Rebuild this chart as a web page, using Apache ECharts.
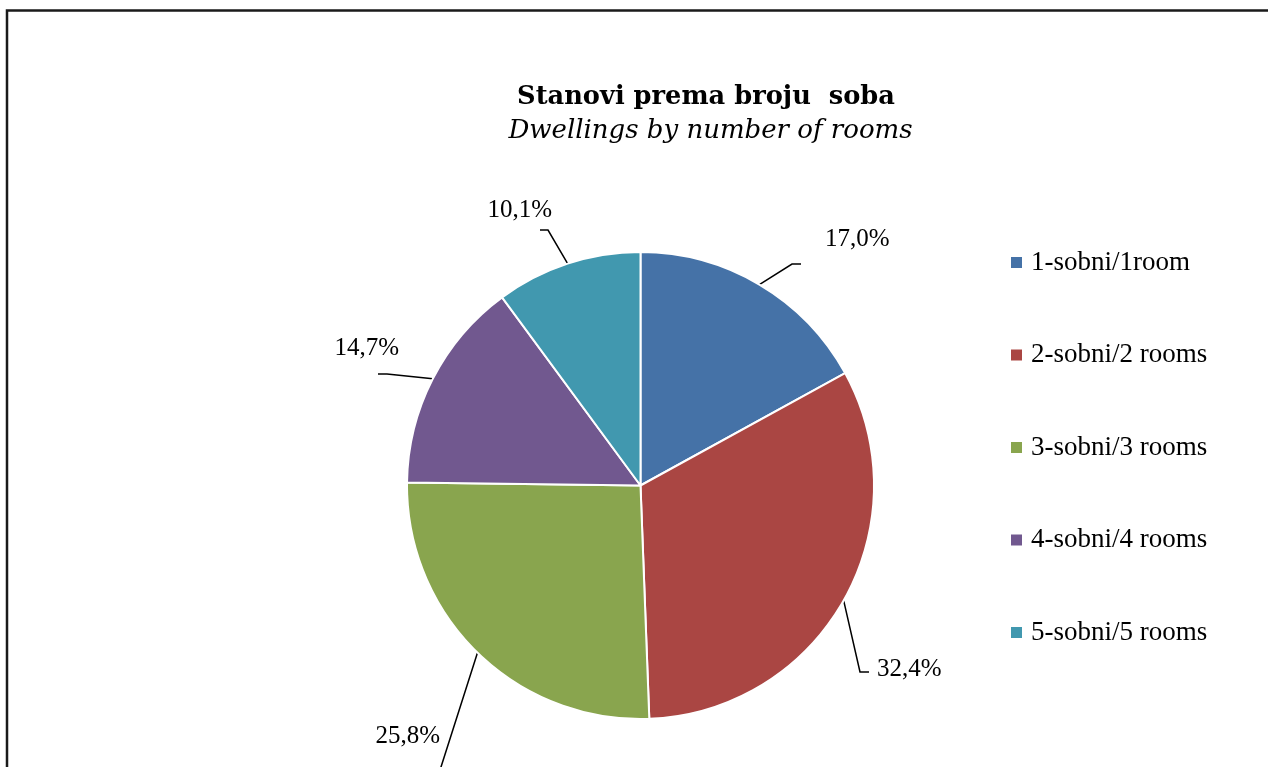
<!DOCTYPE html>
<html>
<head>
<meta charset="utf-8">
<script src="https://cdn.jsdelivr.net/npm/echarts@6/dist/echarts.min.js"></script>
<style>
html,body{margin:0;padding:0;background:#fff;}
#chart{width:1268px;height:767px;}
</style>
</head>
<body>
<div id="chart"></div>
<script>
var categories = ['1-sobni/1room', '2-sobni/2 rooms', '3-sobni/3 rooms', '4-sobni/4 rooms', '5-sobni/5 rooms'];
var values = [17.0, 32.4, 25.8, 14.7, 10.1];
var valueLabels = ['17,0%', '32,4%', '25,8%', '14,7%', '10,1%'];
var colors = ['#4572A7', '#AA4643', '#89A54E', '#71588F', '#4198AF'];

var titleText = 'Stanovi prema broju  soba';
var subtitleText = 'Dwellings by number of rooms';

// label placement (layout only): text anchor and leader-line bend/end points
var labelPlacement = [
  {x: 825, y: 239, align: 'left', bend: [792, 264], end: [801, 264]},
  {x: 877, y: 669, align: 'left', bend: [860, 672], end: [869, 672]},
  {x: 440, y: 736, align: 'right', bend: [441, 767], end: [438, 780]},
  {x: 399, y: 348, align: 'right', bend: [387, 374], end: [378, 374]},
  {x: 552, y: 210, align: 'right', bend: [548, 230], end: [540, 230]}
];

var FONT = '"Liberation Serif", serif';
var TFONT = '"DejaVu Serif", serif';

var chart = echarts.init(document.getElementById('chart'), null, {renderer: 'canvas'});
var data = categories.map(function (c, i) {
  return {name: c, value: values[i], label: {formatter: valueLabels[i]}};
});

chart.setOption({
  animation: false,
  backgroundColor: '#ffffff',
  color: colors,
  graphic: [{
    type: 'rect',
    shape: {x: 7, y: 10.5, width: 1400, height: 900},
    style: {fill: 'none', stroke: '#1a1a1a', lineWidth: 2.5},
    silent: true
  }],
  title: [{
    text: titleText,
    left: 701, top: 79, textAlign: 'center',
    textStyle: {fontFamily: TFONT, fontWeight: 'bold', fontSize: 25.7, color: '#000'}
  }, {
    text: subtitleText,
    left: 705.5, top: 113, textAlign: 'center',
    textStyle: {fontFamily: TFONT, fontStyle: 'italic', fontWeight: 'normal', fontSize: 26, color: '#000'}
  }],
  legend: {
    orient: 'vertical',
    left: 1009, top: 249,
    padding: 0,
    itemWidth: 13, itemHeight: 13,
    itemGap: 65.5,
    icon: 'rect',
    data: categories,
    textStyle: {fontFamily: FONT, fontSize: 27, color: '#000', lineHeight: 25, padding: [0, 0, 0, 3]}
  },
  series: [{
    type: 'pie',
    center: [640.5, 485.5],
    radius: 233.5,
    startAngle: 90,
    clockwise: true,
    data: data,
    itemStyle: {borderColor: '#fff', borderWidth: 2},
    emphasis: {disabled: true},
    label: {
      show: true, position: 'outside',
      fontFamily: FONT, fontSize: 25, color: '#000'
    },
    labelLine: {show: true, length: 10, length2: 10, smooth: false,
      lineStyle: {color: '#000', width: 1.5}},
    labelLayout: function (params) {
      var p = labelPlacement[params.dataIndex];
      var start = params.labelLinePoints ? params.labelLinePoints[0] : [0, 0];
      return {
        x: p.x, y: p.y, align: p.align, verticalAlign: 'middle',
        labelLinePoints: [start, p.bend, p.end]
      };
    }
  }]
});
</script>
</body>
</html>
